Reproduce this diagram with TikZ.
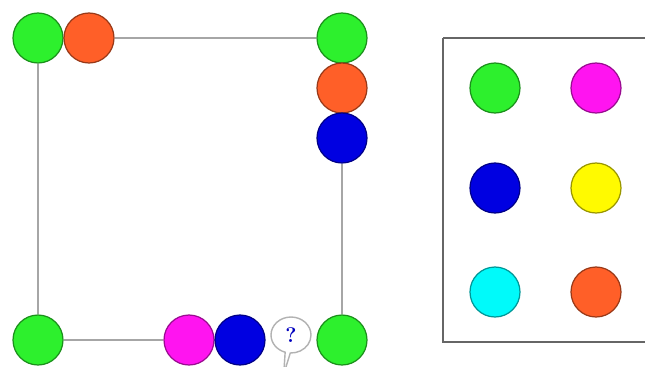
\documentclass[tikz,border=0pt]{standalone}
\usepackage{tikz}
\usetikzlibrary{shapes.callouts,positioning}

\definecolor{ballgreen}{RGB}{45,240,45}
\definecolor{ballorange}{RGB}{255,95,40}
\definecolor{ballblue}{RGB}{0,0,225}
\definecolor{ballmagenta}{RGB}{255,20,240}
\definecolor{ballyellow}{RGB}{255,250,0}
\definecolor{ballcyan}{RGB}{0,250,250}

\begin{document}
\begin{tikzpicture}[
    x=0.02cm, y=-0.02cm,
    ball/.style={circle, minimum size=1cm, inner sep=0pt, line width=0.7pt},
    edge/.style={draw=gray!70, line width=1pt},
    frame/.style={draw=gray!80!black, line width=1pt},
    bubble/.style={ellipse callout, draw=gray!60, fill=white, line width=0.8pt,
        minimum width=0.8cm, minimum height=0.72cm, inner sep=0pt,
        callout relative pointer={(-0.08cm,-0.43cm)}, font=\large\bfseries, text=blue!75!black}
]
    \useasboundingbox (0,0) rectangle (645,366);

    % Square with balls on its corners and sides
    \node[ball, draw=ballgreen!60!black, fill=ballgreen] (tlgreen) at (38,38) {};
    \node[ball, draw=ballorange!60!black, fill=ballorange] (tlorange) at (89,38) {};
    \node[ball, draw=ballgreen!60!black, fill=ballgreen] (trgreen) at (342,38) {};
    \node[ball, draw=ballorange!60!black, fill=ballorange] (trorange) at (342,88) {};
    \node[ball, draw=ballblue!60!black, fill=ballblue] (trblue) at (342,138) {};
    \node[ball, draw=ballgreen!60!black, fill=ballgreen] (blgreen) at (38,340) {};
    \node[ball, draw=ballmagenta!60!black, fill=ballmagenta] (blmagenta) at (189,340) {};
    \node[ball, draw=ballblue!60!black, fill=ballblue] (blblue) at (240,340) {};
    \node[bubble] (ask) at (291,335) {?};
    \node[ball, draw=ballgreen!60!black, fill=ballgreen] (brgreen) at (342,340) {};

    % Sides of the square
    \draw[edge] (tlorange) -- (trgreen);
    \draw[edge] (tlgreen) -- (blgreen);
    \draw[edge] (trblue) -- (brgreen);
    \draw[edge] (blgreen) -- (blmagenta);

    % Box of choices
    \draw[frame] (443,38) -- (645,38);
    \draw[frame] (443,38) -- (443,342) -- (645,342);
    \node[ball, draw=ballgreen!60!black, fill=ballgreen] (optgreen) at (495,88) {};
    \node[ball, draw=ballmagenta!60!black, fill=ballmagenta] (optmagenta) at (596,88) {};
    \node[ball, draw=ballblue!60!black, fill=ballblue] (optblue) at (495,188) {};
    \node[ball, draw=ballyellow!60!black, fill=ballyellow] (optyellow) at (596,188) {};
    \node[ball, draw=ballcyan!60!black, fill=ballcyan] (optcyan) at (495,292) {};
    \node[ball, draw=ballorange!60!black, fill=ballorange] (optorange) at (596,292) {};
\end{tikzpicture}
\end{document}
